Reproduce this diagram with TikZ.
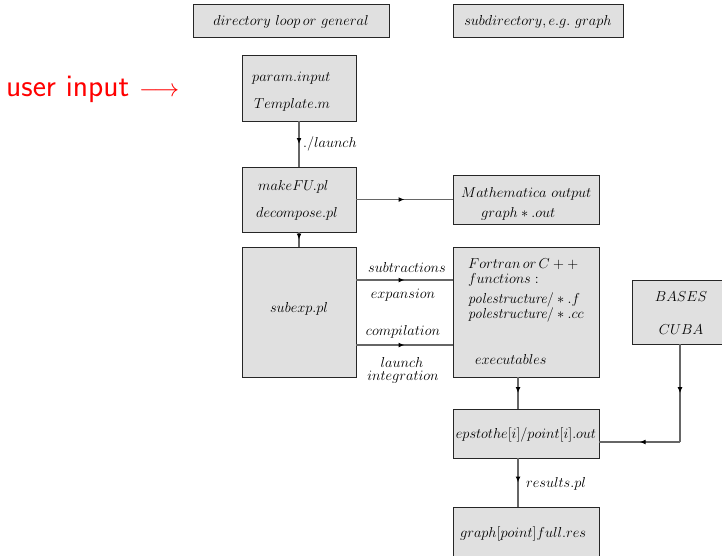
\documentclass[tikz,border=0pt]{standalone}
\usetikzlibrary{arrows.meta,decorations.markings}
\begin{document}
\begin{tikzpicture}[x=1pt,y=-1pt,
  box/.style={draw=black!85,line width=0.8pt,fill=black!12,inner sep=0pt,minimum width=#1},
  lbl/.style={inner sep=0pt,font=\fontsize{14.5}{17.4}\selectfont},
  conn/.style={draw=black!60,line width=1.2pt,postaction={decorate},
    decoration={markings,mark=at position 0.5 with {\arrow{Latex[length=6pt,width=5pt,black]}}}}]
\useasboundingbox (0,0) rectangle (722,555);
% boxes
\node[box=196pt,minimum height=33pt] (top1) at (291,20.5) {};
\node[box=170pt,minimum height=33pt] (top2) at (538,20.5) {};
\node[box=114pt,minimum height=66pt] (param) at (299,88) {};
\node[box=114pt,minimum height=65pt] (make) at (299,199.5) {};
\node[box=146pt,minimum height=49pt] (math) at (526,199.5) {};
\node[box=114pt,minimum height=130pt] (sub) at (299,312) {};
\node[box=146pt,minimum height=130pt] (fort) at (526,312) {};
\node[box=96pt,minimum height=64pt] (bases) at (680,312) {};
\node[box=146pt,minimum height=49pt] (eps) at (526,433.5) {};
\node[box=146pt,minimum height=56pt] (graph) at (526,535) {};
% texts
\node[lbl,anchor=base] (t1) at (291,25) {$directory\ loop\,or\ general$};
\node[lbl,anchor=base] (t2) at (538,25) {$subdirectory, e.g.\ graph$};
\node[lbl,anchor=base west,text=red,font=\sffamily\fontsize{31.5}{36}\selectfont] (user) at (6,96) {user input $\longrightarrow$};
\node[lbl,anchor=base west] (p1) at (252,81) {$param.input$};
\node[lbl,anchor=base west] (p2) at (254,108) {$Template.m$};
\node[lbl,anchor=base west] (m1) at (258,190) {$makeFU.pl$};
\node[lbl,anchor=base west] (m2) at (256,217) {$decompose.pl$};
\node[lbl,anchor=base west] (o1) at (461,197) {$Mathematica\ output$};
\node[lbl,anchor=base west] (o2) at (481,217) {$graph*.out$};
\node[lbl,anchor=base] (s1) at (299,312) {$subexp.pl$};
\node[lbl,anchor=base west] (f1) at (468,268) {$Fortran\,or\,C++$};
\node[lbl,anchor=base west] (f2) at (468,283) {$functions:$};
\node[lbl,anchor=base west] (f3) at (468,303) {\textit{polestructure}$/*.f$};
\node[lbl,anchor=base west] (f4) at (468,318) {\textit{polestructure}$/*.cc$};
\node[lbl,anchor=base west] (f5) at (475,364) {$executables$};
\node[lbl,anchor=base] (b1) at (681,301) {$BASES$};
\node[lbl,anchor=base] (b2) at (681,334) {$CUBA$};
\node[lbl,anchor=base] (e1) at (526,438) {$epstothe[i]/point[i].out$};
\node[lbl,anchor=base] (g1) at (523,537) {$graph[point]full.res$};
\node[lbl,anchor=base west] (l1) at (303,147) {$./launch$};
\node[lbl,anchor=base] (l2) at (407,272) {$subtractions$};
\node[lbl,anchor=base] (l3) at (403,298) {$expansion$};
\node[lbl,anchor=base] (l4) at (403,335) {$compilation$};
\node[lbl,anchor=base] (l5) at (402,367) {$launch$};
\node[lbl,anchor=base] (l6) at (403,380) {$integration$};
\node[lbl,anchor=base west] (l7) at (526,487) {$results.pl$};
% connectors
\path[conn] (param.south) -- (make.north);
\path[conn] (make.east) -- (math.west);
\path[conn] (make.south) -- (sub.north);
\path[conn] (sub.east |- 0,280) -- (fort.west |- 0,280);
\path[conn] (sub.east |- 0,345) -- (fort.west |- 0,345);
\path[conn] (fort.south -| 518,0) -- (eps.north -| 518,0);
\path[conn] (eps.south -| 518,0) -- (graph.north -| 518,0);
\coordinate (corner) at (680,442);
\path[conn] (bases.south) -- (corner);
\path[conn] (corner) -- (eps.east |- corner);
\end{tikzpicture}
\end{document}
